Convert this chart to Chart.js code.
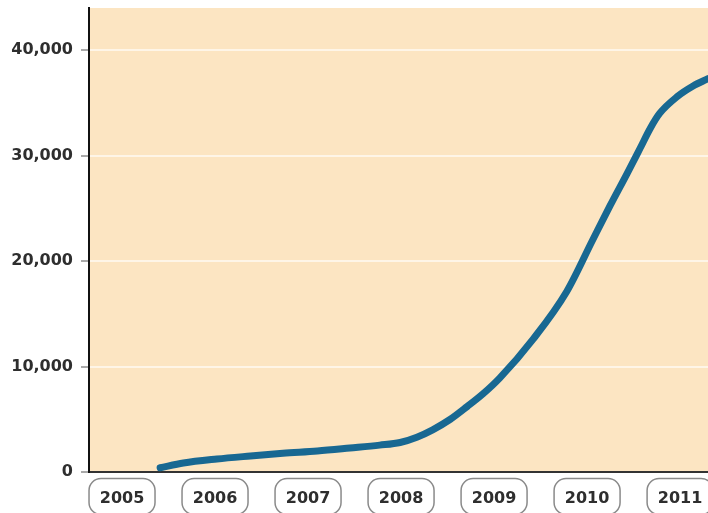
<!DOCTYPE html>
<html>
<head>
<meta charset="utf-8">
<script src="https://cdn.jsdelivr.net/npm/chart.js@4"></script>
<style>
  html, body { margin: 0; padding: 0; background: #fff; }
  #wrap { width: 708px; height: 513px; position: relative; }
</style>
</head>
<body>
<div id="wrap"><canvas id="chart"></canvas></div>
<script>
// ── Data ──────────────────────────────────────────────────
const years = [2005, 2006, 2007, 2008, 2009, 2010, 2011];
const pointYears = [2005.41, 2005.66, 2006.02, 2006.38, 2006.73, 2007.1, 2007.45,
  2007.77, 2007.99, 2008.17, 2008.34, 2008.53, 2008.71, 2008.88, 2009.06,
  2009.42, 2009.78, 2010.06, 2010.25, 2010.43, 2010.57, 2010.68, 2010.78,
  2010.97, 2011.14, 2011.3];
const pointValues = [400, 850, 1230, 1520, 1780, 2000, 2280,
  2550, 2800, 3300, 4000, 5000, 6200, 7400, 8900,
  12600, 17100, 22000, 25300, 28300, 30700, 32600, 34000,
  35600, 36600, 37300];
const yTicks = [0, 10000, 20000, 30000, 40000];

const FONT = "'DejaVu Sans', sans-serif";
const TEXT = "#2e2e2e";

// peach plot background
const plotBg = {
  id: "plotBg",
  beforeDraw(chart) {
    const { ctx, chartArea: a } = chart;
    ctx.save();
    ctx.fillStyle = "#fce5c2";
    ctx.fillRect(a.left, a.top, a.right - a.left, a.bottom - a.top);
    ctx.restore();
  },
};

// rounded outline round each year label
const yearPills = {
  id: "yearPills",
  afterDraw(chart) {
    const { ctx } = chart;
    const x = chart.scales.x;
    ctx.save();
    ctx.strokeStyle = "#8a8a8a";
    ctx.lineWidth = 1.5;
    years.forEach((yr) => {
      const cx = x.getPixelForValue(yr);
      ctx.beginPath();
      ctx.roundRect(cx - 33, 478.5, 66, 36, 12);
      ctx.stroke();
    });
    ctx.restore();
  },
};

new Chart(document.getElementById("chart"), {
  type: "line",
  data: {
    datasets: [{
      data: pointYears.map((x, i) => ({ x, y: pointValues[i] })),
      borderColor: "#186892",
      borderWidth: 7,
      pointRadius: 0,
      cubicInterpolationMode: "monotone",
      borderCapStyle: "round",
      fill: false,
    }],
  },
  options: {
    responsive: true,
    maintainAspectRatio: false,
    animation: false,
    layout: { padding: { top: 8, right: 0, left: 0, bottom: 0 } },
    plugins: { legend: { display: false }, tooltip: { enabled: false } },
    scales: {
      x: {
        type: "linear",
        min: 2004.645,
        max: 2011.3,
        afterBuildTicks: (s) => { s.ticks = years.map((v) => ({ value: v })); },
        afterFit: (s) => {
          s.height = 41;
          s.paddingLeft = 0;
          s.paddingRight = 0;
        },
        grid: { display: false, drawTicks: false },
        border: { display: true, color: "#333", width: 2 },
        ticks: {
          padding: 17,
          color: TEXT,
          font: { family: FONT, size: 16, weight: "bold" },
          callback: (v) => String(v),
          maxRotation: 0,
        },
      },
      y: {
        min: 0,
        max: 44000,
        afterBuildTicks: (s) => { s.ticks = yTicks.map((v) => ({ value: v })); },
        afterFit: (s) => {
          s.width = 89;
          s.paddingTop = 0;
          s.paddingBottom = 0;
        },
        grid: {
          color: "rgba(255,255,255,0.6)",
          lineWidth: 2,
          tickColor: "#555",
          tickLength: 8,
          tickWidth: 1,
        },
        border: { display: true, color: "#111", width: 2 },
        ticks: {
          padding: 8,
          color: TEXT,
          font: { family: FONT, size: 16, weight: "bold" },
          callback: (v) => v.toLocaleString("en-US"),
        },
      },
    },
  },
  plugins: [plotBg, yearPills],
});
</script>
</body>
</html>
